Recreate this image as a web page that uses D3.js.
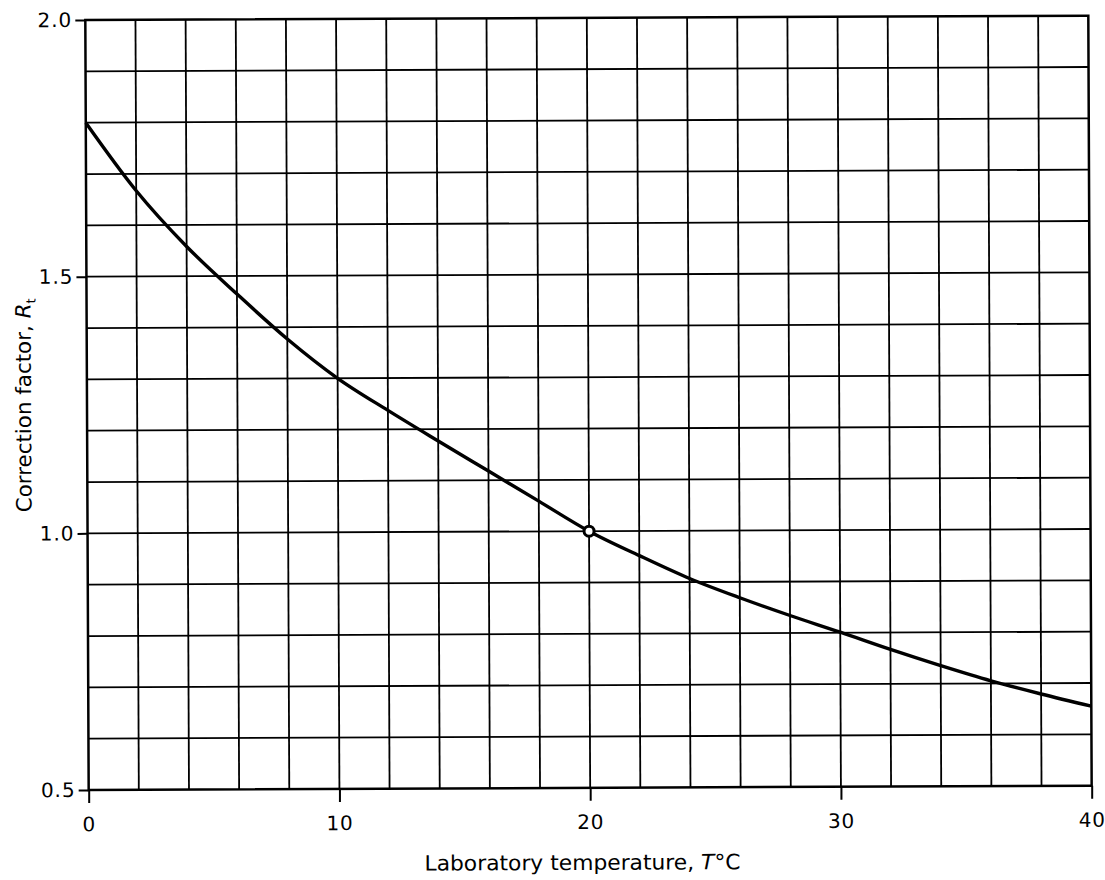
<!DOCTYPE html>
<html>
<head>
<meta charset="utf-8">
<script src="https://cdn.jsdelivr.net/npm/d3@7"></script>
<style>
  body { margin: 0; background: #fff; }
  text { font-family: "DejaVu Sans", sans-serif; fill: #000; }
</style>
</head>
<body>
<script>
// values (temperature in °C, correction factor)
var temps   = [0, 2, 4, 6, 8, 10, 12, 14, 16, 18, 20, 22, 24, 26, 28, 30, 32, 34, 36, 38, 40];
var factors = [1.800, 1.667, 1.558, 1.465, 1.377, 1.300, 1.237, 1.177, 1.118, 1.059, 1.000,
               0.952, 0.907, 0.869, 0.834, 0.801, 0.767, 0.735, 0.705, 0.679, 0.655];
var refT = [20];
var refR = [1.0];
var xTicks = [0, 10, 20, 30, 40];
var yTicks = [0.5, 1.0, 1.5, 2.0];

var W = 1105, H = 880;
var m = {left: 87, right: 15, top: 18, bottom: 92};

var x = d3.scaleLinear().domain([0, 40]).range([m.left, W - m.right]);
var y = d3.scaleLinear().domain([0.5, 2.0]).range([H - m.bottom, m.top]);

var svg = d3.select("body").append("svg").attr("width", W).attr("height", H);

// the scan is a touch tilted
var g = svg.append("g").attr("transform", "rotate(-0.25," + (W / 2) + "," + (H / 2 - 35) + ")");

// grid: every 2 °C and every 0.1
g.selectAll("line.vgrid")
    .data(d3.range(2, 40, 2))
    .enter().append("line")
      .attr("class", "vgrid")
      .attr("x1", function(d){ return x(d); })
      .attr("x2", function(d){ return x(d); })
      .attr("y1", y(0.5))
      .attr("y2", y(2.0))
      .attr("stroke", "#000")
      .attr("stroke-width", 1.8);

g.selectAll("line.hgrid")
    .data(d3.range(6, 20).map(function(d){ return d / 10; }))
    .enter().append("line")
      .attr("class", "hgrid")
      .attr("x1", x(0))
      .attr("x2", x(40))
      .attr("y1", function(d){ return y(d); })
      .attr("y2", function(d){ return y(d); })
      .attr("stroke", "#000")
      .attr("stroke-width", 1.8);

// frame
g.append("rect")
    .attr("x", x(0)).attr("y", y(2.0))
    .attr("width", x(40) - x(0)).attr("height", y(0.5) - y(2.0))
    .attr("fill", "none").attr("stroke", "#000").attr("stroke-width", 2.5);

// axes
var yAxis = d3.axisLeft(y).tickValues(yTicks).tickFormat(d3.format(".1f")).tickSize(10).tickPadding(3);
var xAxis = d3.axisBottom(x).tickValues(xTicks).tickSize(13).tickPadding(14);

var ya = g.append("g").attr("transform", "translate(" + x(0) + ",0)").call(yAxis);
var xa = g.append("g").attr("transform", "translate(0," + y(0.5) + ")").call(xAxis);

[ya, xa].forEach(function(a){
  a.select(".domain").remove();
  a.selectAll(".tick line").attr("stroke", "#000").attr("stroke-width", 2);
  a.selectAll(".tick text")
      .attr("font-family", "DejaVu Sans")
      .attr("font-size", 20)
      .attr("letter-spacing", 1)
      .attr("fill", "#000");
});

// curve
var line = d3.line()
    .x(function(d, i){ return x(temps[i]); })
    .y(function(d){ return y(d); })
    .curve(d3.curveMonotoneX);

g.append("path")
    .datum(factors)
    .attr("d", line)
    .attr("fill", "none")
    .attr("stroke", "#000")
    .attr("stroke-width", 3.4);

// reference point at 20 °C
g.selectAll("circle.ref")
    .data(refT)
    .enter().append("circle")
      .attr("class", "ref")
      .attr("cx", function(d){ return x(d); })
      .attr("cy", function(d, i){ return y(refR[i]); })
      .attr("r", 5)
      .attr("fill", "#fff")
      .attr("stroke", "#000")
      .attr("stroke-width", 3);

// axis titles
var xt = g.append("text")
    .attr("x", (x(0) + x(40)) / 2 - 8)
    .attr("y", 870)
    .attr("text-anchor", "middle")
    .attr("font-size", 21)
    .attr("textLength", 316)
    .attr("lengthAdjust", "spacingAndGlyphs");
xt.append("tspan").text("Laboratory temperature, ");
xt.append("tspan").attr("font-style", "italic").text("T");
xt.append("tspan").text("\u00b0C");

var yt = g.append("text")
    .attr("transform", "translate(31," + ((y(0.5) + y(2.0)) / 2) + ") rotate(-90)")
    .attr("text-anchor", "middle")
    .attr("font-size", 21)
    .attr("textLength", 214)
    .attr("lengthAdjust", "spacingAndGlyphs");
yt.append("tspan").text("Correction factor, ");
yt.append("tspan").attr("font-style", "italic").text("R");
yt.append("tspan").attr("font-size", 13).attr("dy", 5).text("t");
</script>
</body>
</html>
